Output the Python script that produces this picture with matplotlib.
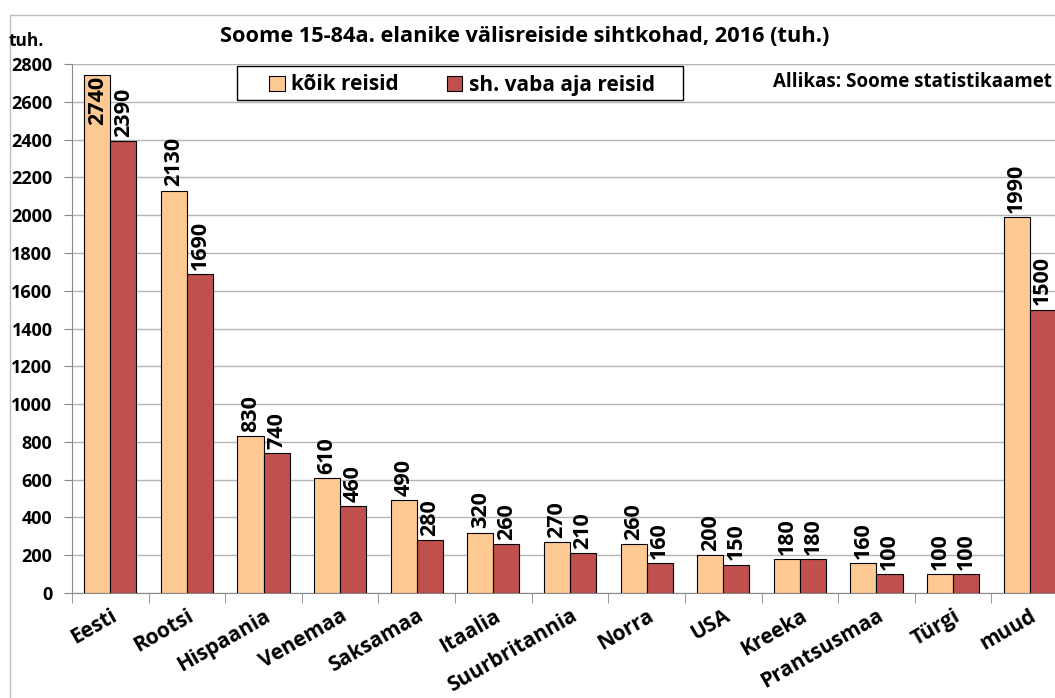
import matplotlib.pyplot as plt
import numpy as np
from matplotlib.patches import Rectangle

plt.rcParams['font.family'] = ['Open Sans', 'DejaVu Sans']
plt.rcParams['font.weight'] = 'bold'

categories = ["Eesti", "Rootsi", "Hispaania", "Venemaa", "Saksamaa", "Itaalia",
              "Suurbritannia", "Norra", "USA", "Kreeka", "Prantsusmaa", "Türgi", "muud"]
koik = [2740, 2130, 830, 610, 490, 320, 270, 260, 200, 180, 160, 100, 1990]
vaba = [2390, 1690, 740, 460, 280, 260, 210, 160, 150, 180, 100, 100, 1500]
yticks = list(range(0, 2801, 200))

W, H = 1055, 698
fig = plt.figure(figsize=(W / 100, H / 100), dpi=100)

# plot area in pixels: x 72..1068, y 64..593
x0, x1, ytop, ybot = 72, 1068, 64, 593
ax = fig.add_axes([x0 / W, 1 - ybot / H, (x1 - x0) / W, (ybot - ytop) / H])

# outer chart border
fig.patches.append(Rectangle((10 / W, -0.01), 1.1, 1 - 15 / H + 0.01, transform=fig.transFigure,
                             fill=False, edgecolor='#bfbfbf', lw=1))

n = len(categories)
x = np.arange(n)
bw = 0.34
ax.bar(x - bw / 2, koik, bw, color='#FFC993', edgecolor='black', lw=0.8, zorder=3,
       label='kõik reisid')
ax.bar(x + bw / 2, vaba, bw, color='#C0504D', edgecolor='black', lw=0.8, zorder=3,
       label='sh. vaba aja reisid')

lbl = dict(rotation=90, ha='center', fontsize=15.5, fontweight='bold', zorder=4)
for xi, v in zip(x - bw / 2, koik):
    if v > 2600:
        ax.text(xi, v - 5, str(v), va='top', **lbl)
    else:
        ax.annotate(str(v), (xi, v), xytext=(0, 3), textcoords='offset points', va='bottom', **lbl)
for xi, v in zip(x + bw / 2, vaba):
    ax.annotate(str(v), (xi, v), xytext=(0, 3), textcoords='offset points', va='bottom', **lbl)

ax.set_xlim(-0.5, n - 0.5)
ax.set_ylim(0, 2800)
ax.set_yticks(yticks)
ax.set_yticklabels([str(t) for t in yticks], fontsize=13, fontweight='bold')
ax.yaxis.grid(True, color='#b4b4b4', lw=1, zorder=0)
ax.tick_params(axis='y', length=6, color='#888888', pad=8)

ax.set_xticks(x)
ax.set_xticklabels(categories, rotation=30, ha='right', rotation_mode='anchor',
                   fontsize=15, fontweight='bold')
ax.tick_params(axis='x', length=0, pad=9)
ax.set_xticks(np.arange(-0.5, n, 1), minor=True)
ax.tick_params(axis='x', which='minor', length=7, color='#888888')

for s in ['top', 'right']:
    ax.spines[s].set_visible(False)
ax.spines['left'].set_color('#888888')
ax.spines['bottom'].set_color('#888888')

fig.text(525 / W, 1 - 36 / H, "Soome 15-84a. elanike välisreiside sihtkohad, 2016 (tuh.)",
         ha='center', va='center', fontsize=15.7, fontweight='bold')
fig.text(9 / W, 1 - 41 / H, "tuh.", ha='left', va='center', fontsize=12.5, fontweight='bold')
fig.text(1052 / W, 1 - 82 / H, "Allikas: Soome statistikaamet", ha='right', va='center',
         fontsize=13.5, fontweight='bold')

# legend box drawn separately for Excel-like padding
box = Rectangle((237 / W, 1 - 100 / H), (683 - 237) / W, 34 / H, transform=fig.transFigure,
                facecolor='white', edgecolor='black', lw=1, zorder=5, clip_on=False)
ax.add_artist(box)
leg = ax.legend(loc='center', bbox_to_anchor=((462 - x0) / (x1 - x0), (ybot - 85) / (ybot - ytop)),
                ncol=2, frameon=False, handlelength=0.75, handleheight=0.75,
                columnspacing=2.3, handletextpad=0.3, borderpad=0, borderaxespad=0,
                prop={'weight': 'bold', 'size': 15})
leg.set_zorder(6)

fig.savefig("out.png", dpi=100)
